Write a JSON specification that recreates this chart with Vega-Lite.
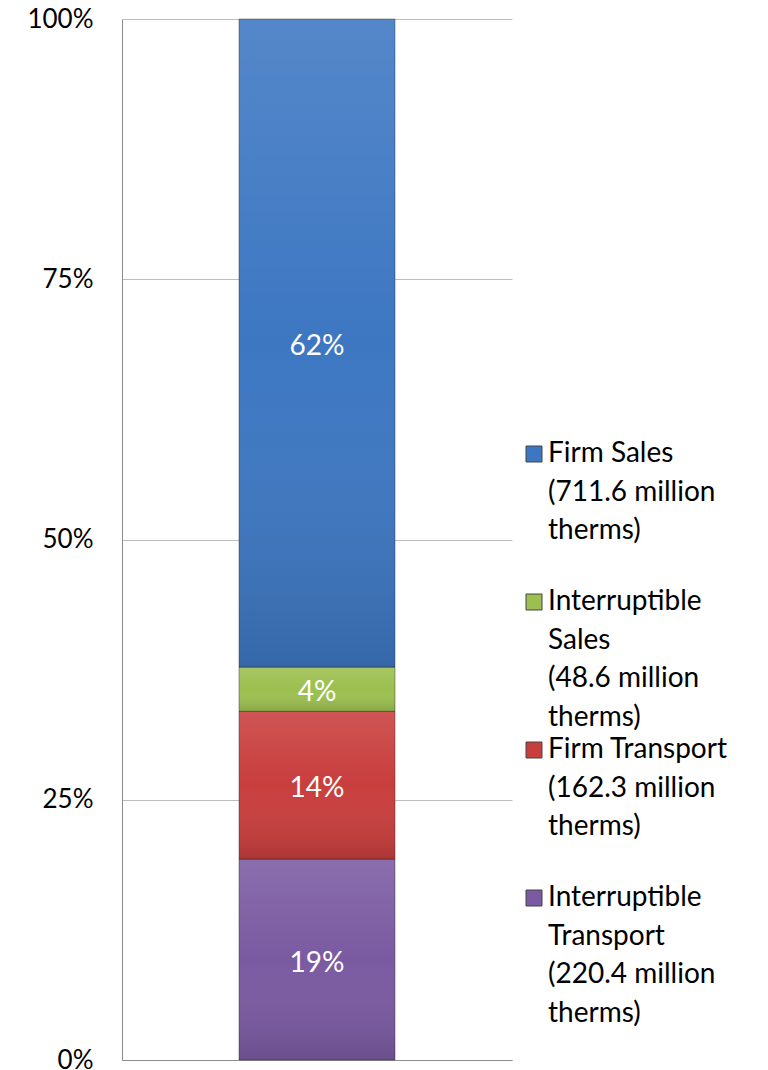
{
  "$schema": "https://vega.github.io/schema/vega-lite/v6.json",
  "width": 390,
  "height": 1041,
  "autosize": "none",
  "padding": {"left": 122, "top": 19, "right": 256, "bottom": 10},
  "background": "white",
  "config": {"view": {"stroke": null}, "font": "Lato"},
  "data": {
    "values": [
      {"group": "Total", "category": "Interruptible Transport", "therms": 220.4, "order": 1, "label": "19%"},
      {"group": "Total", "category": "Firm Transport", "therms": 162.3, "order": 2, "label": "14%"},
      {"group": "Total", "category": "Interruptible Sales", "therms": 48.6, "order": 3, "label": "4%"},
      {"group": "Total", "category": "Firm Sales", "therms": 711.6, "order": 4, "label": "62%"}
    ]
  },
  "transform": [
    {"stack": "therms", "groupby": ["group"], "offset": "normalize", "sort": [{"field": "order", "order": "ascending"}], "as": ["lo", "hi"]}
  ],
  "encoding": {
    "x": {
      "field": "group",
      "type": "nominal",
      "scale": {"paddingInner": 0, "paddingOuter": 0.75},
      "axis": {"title": null, "labels": false, "ticks": false, "domain": true, "domainColor": "#8c8c8c", "grid": false}
    }
  },
  "layer": [
    {
      "mark": {"type": "bar", "strokeWidth": 0},
      "encoding": {
        "y": {
          "field": "lo",
          "type": "quantitative",
          "scale": {"domain": [0, 1], "nice": false},
          "axis": {
            "title": null,
            "values": [0, 0.25, 0.5, 0.75, 1],
            "format": ".0%",
            "labelFontSize": 26,
            "labelColor": "black",
            "labelPadding": 29,
            "ticks": false,
            "domainColor": "#8c8c8c",
            "grid": true,
            "gridColor": "#bdbdbd"
          }
        },
        "y2": {"field": "hi"},
        "color": {
          "field": "category",
          "type": "nominal",
          "scale": {
            "domain": ["Firm Sales", "Interruptible Sales", "Firm Transport", "Interruptible Transport"],
            "range": ["#3d77c2", "#9cbf4f", "#c83e3d", "#7a5aa1"]
          },
          "legend": {
            "title": null,
            "orient": "none",
            "legendX": 398,
            "legendY": 421,
            "padding": 0,
            "symbolType": "square",
            "symbolSize": 256,
            "symbolStrokeWidth": 1,
            "symbolStrokeColor": "#444444",
            "labelFontSize": 28,
            "labelColor": "black",
            "labelLimit": 400,
            "labelOffset": 0,
            "labelBaseline": "top",
            "gridAlign": "all",
            "rowPadding": 4,
            "labelExpr": "datum.label == 'Firm Sales' ? ['Firm Sales', '(711.6 million', 'therms)'] : datum.label == 'Interruptible Sales' ? ['Interruptible', 'Sales', '(48.6 million', 'therms)'] : datum.label == 'Firm Transport' ? ['Firm Transport', '(162.3 million', 'therms)'] : ['Interruptible', 'Transport', '(220.4 million', 'therms)']",
            "encode": {"labels": {"update": {"lineHeight": {"value": 38.5}, "dy": {"value": -14}}}}
          }
        }
      }
    },
    {
      "mark": {
        "type": "bar",
        "stroke": "#222222",
        "strokeOpacity": 0.4,
        "strokeWidth": 1,
        "color": {"gradient": "linear", "x1": 0, "y1": 0, "x2": 0, "y2": 1, "stops": [{"offset": 0, "color": "rgba(255,255,255,0.12)"}, {"offset": 0.5, "color": "rgba(255,255,255,0)"}, {"offset": 1, "color": "rgba(0,0,0,0.13)"}]}
      },
      "encoding": {
        "y": {"field": "lo", "type": "quantitative"},
        "y2": {"field": "hi"}
      }
    },
    {
      "transform": [
        {"fold": ["lo", "hi"], "as": ["edge", "pos"]},
        {"aggregate": [{"op": "mean", "field": "pos", "as": "mid"}], "groupby": ["group", "category", "label"]}
      ],
      "mark": {"type": "text", "color": "white", "fontSize": 28, "baseline": "middle", "dy": 4},
      "encoding": {
        "y": {"field": "mid", "type": "quantitative"},
        "text": {"field": "label"}
      }
    }
  ]
}
